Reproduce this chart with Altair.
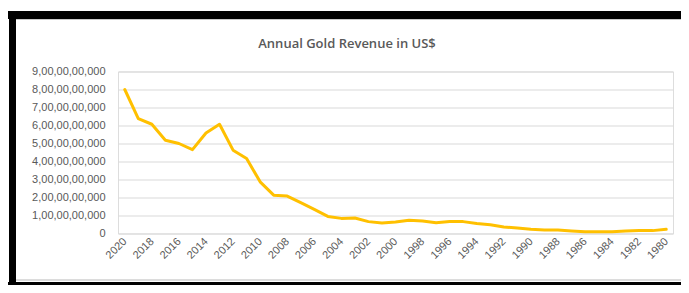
import altair as alt
import pandas as pd

years = list(range(2020, 1979, -1))
revenue_bn = [8.0, 6.38, 6.07, 5.18, 5.0, 4.66, 5.58, 6.07, 4.63, 4.17,
              2.87, 2.13, 2.08, 1.71, 1.34, 0.95, 0.84, 0.86, 0.66, 0.58,
              0.64, 0.73, 0.69, 0.60, 0.66, 0.66, 0.56, 0.49, 0.36, 0.30,
              0.23, 0.19, 0.19, 0.14, 0.10, 0.10, 0.10, 0.14, 0.16, 0.16,
              0.23]
revenue = [v * 1e9 for v in revenue_bn]
x_tick_years = list(range(2020, 1979, -2))
y_ticks = [i * 1e9 for i in range(0, 10)]
title_text = "Annual Gold Revenue in US$"

df = pd.DataFrame({"year": years, "revenue": revenue})

W, H = 555, 162

line = alt.Chart(df).mark_line(color="#FFC000", strokeWidth=3, strokeJoin="round", strokeCap="round").encode(
    x=alt.X("year:O", sort=years, title=None,
            scale=alt.Scale(type="point", padding=0.5),
            axis=alt.Axis(values=x_tick_years, labelAngle=-45, labelAlign="right",
                          labelBaseline="middle", labelPadding=6, ticks=False,
                          domain=False, labelFontSize=11, labelColor="#595959",
                          labelFont="Liberation Sans")),
    y=alt.Y("revenue:Q", title=None,
            scale=alt.Scale(domain=[0, 9e9], nice=False),
            axis=alt.Axis(values=y_ticks, ticks=False, domain=False,
                          labelExpr="datum.value == 0 ? '0' : format(datum.value/1e9, 'd') + ',00,00,00,000'",
                          labelFontSize=11, labelColor="#595959", labelPadding=13,
                          labelFont="Liberation Sans",
                          grid=True, gridColor="#D9D9D9", gridWidth=1)),
)

one = pd.DataFrame({"a": [0]})
title = alt.Chart(one).mark_text(text=title_text, font="Open Sans", fontSize=13,
                                 fontWeight=600, color="#595959",
                                 align="center", baseline="middle").encode(
    x=alt.value(229), y=alt.value(-27.5))
top_band = alt.Chart(one).mark_rule(color="black", strokeWidth=8).encode(
    x=alt.value(-110), x2=alt.value(563), y=alt.value(-56.5))
top_gray = alt.Chart(one).mark_rule(color="#C8C8C8", strokeWidth=1).encode(
    x=alt.value(-102), x2=alt.value(563), y=alt.value(-52))
left_band = alt.Chart(one).mark_rule(color="black", strokeWidth=7).encode(
    x=alt.value(-105.5), y=alt.value(-60.5), y2=alt.value(213.5))
bottom_gray = alt.Chart(one).mark_rule(color="#D0D0D0", strokeWidth=1.5).encode(
    x=alt.value(-102), x2=alt.value(563), y=alt.value(208.5))
bottom_band = alt.Chart(one).mark_rule(color="black", strokeWidth=3).encode(
    x=alt.value(-110), x2=alt.value(563), y=alt.value(212))

chart = alt.layer(line, title, top_band, top_gray, left_band, bottom_gray, bottom_band).properties(
    width=W, height=H,
    autosize=alt.AutoSizeParams(type="none"),
    padding={"left": 110, "top": 63.5, "right": 8, "bottom": 51.5},
).configure_view(stroke=None).configure(background="white")

chart.save("out.html", embed_options={"renderer": "svg", "actions": False})
